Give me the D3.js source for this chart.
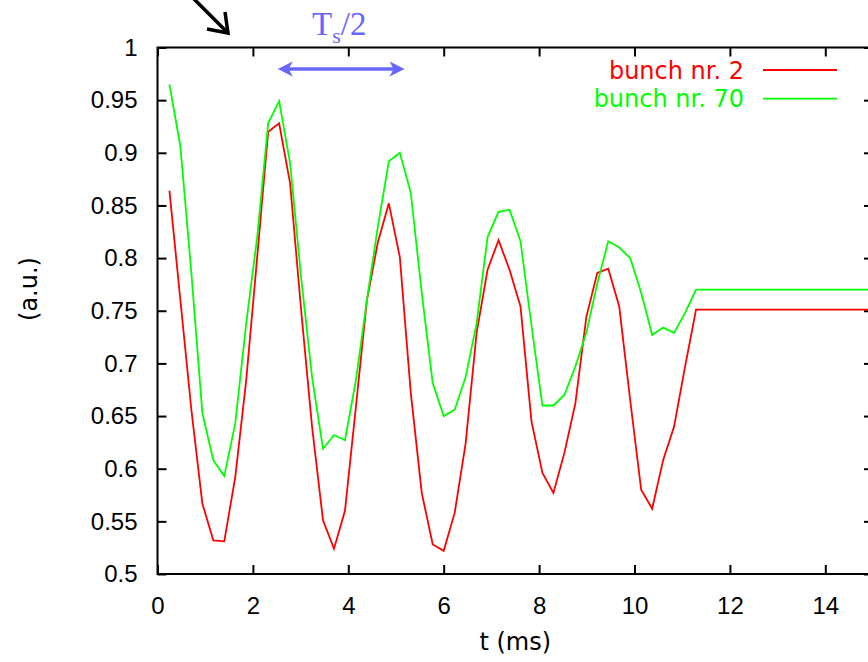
<!DOCTYPE html>
<html lang="en">
<style>

body {
  margin: 0;
  background: #fff;
}

svg {
  display: block;
  font-family: "DejaVu Sans", "Liberation Sans", sans-serif;
}

.frame {
  fill: none;
  stroke: #000;
  stroke-width: 2px;
}

.axis line {
  stroke: #000;
  stroke-width: 2px;
}

.axis text {
  font-size: 24px;
  fill: #000;
}

.curve {
  fill: none;
  stroke-width: 1.8px;
}

</style>

<script type = "text/javascript" src="https://d3js.org/d3.v7.min.js"></script>
<body>
  <script type = "text/javascript">

// Time of each sample (ms)
var tms = [0.25, 0.48, 0.71, 0.94, 1.17, 1.40, 1.63, 1.86, 2.09, 2.32,
           2.55, 2.78, 3.01, 3.24, 3.47, 3.70, 3.93, 4.16, 4.39, 4.62,
           4.85, 5.08, 5.31, 5.54, 5.77, 6.00, 6.23, 6.46, 6.69, 6.92,
           7.15, 7.38, 7.61, 7.84, 8.07, 8.30, 8.53, 8.76, 8.99, 9.22,
           9.45, 9.68, 9.91, 10.14, 10.37, 10.60, 10.83, 11.06, 11.29, 15];

// Signal of bunch nr. 2 (a.u.)
var bunch2 = [0.864, 0.760, 0.656, 0.567, 0.532, 0.531, 0.592, 0.684, 0.801, 0.920,
              0.928, 0.871, 0.751, 0.640, 0.551, 0.524, 0.560, 0.659, 0.760, 0.815,
              0.852, 0.801, 0.672, 0.577, 0.528, 0.522, 0.558, 0.624, 0.729, 0.789,
              0.817, 0.789, 0.754, 0.645, 0.596, 0.577, 0.615, 0.662, 0.744, 0.786,
              0.790, 0.754, 0.665, 0.580, 0.562, 0.608, 0.640, 0.697, 0.751, 0.751];

// Signal of bunch nr. 70 (a.u.)
var bunch70 = [0.965, 0.906, 0.786, 0.653, 0.608, 0.593, 0.643, 0.738, 0.820, 0.928,
               0.949, 0.890, 0.782, 0.687, 0.619, 0.632, 0.627, 0.684, 0.760, 0.830,
               0.892, 0.900, 0.862, 0.767, 0.681, 0.650, 0.656, 0.687, 0.738, 0.820,
               0.844, 0.846, 0.816, 0.736, 0.660, 0.660, 0.670, 0.697, 0.729, 0.776,
               0.816, 0.810, 0.800, 0.767, 0.727, 0.734, 0.729, 0.748, 0.770, 0.770];

// Tick values
var xTicks = [0, 2, 4, 6, 8, 10, 12, 14];
var yTicks = [0.5, 0.55, 0.6, 0.65, 0.7, 0.75, 0.8, 0.85, 0.9, 0.95, 1];

// Half synchrotron period marker (ms) and its height
var halfPeriod = [2.52, 5.18];
var halfPeriodLevel = 0.9795;

var width = 868,
    height = 662;

var svg = d3.select("body")
            .append("svg")
            .attr("width", width)
            .attr("height", height);

// Scales (plot box runs a bit past the right edge of the picture)
var x = d3.scaleLinear().domain([0, 15]).range([157.5, 873]);
var y = d3.scaleLinear().domain([0.5, 1]).range([574, 47.5]);

var tick = -9;

// Axes with inward ticks on all four sides
svg.append("g")
    .attr("class", "axis")
    .attr("transform", "translate(0," + y(0.5) + ")")
    .call(d3.axisBottom(x).tickValues(xTicks).tickSizeInner(tick).tickSizeOuter(0).tickPadding(23).tickFormat(String))
    .call(function(g) { g.select(".domain").remove(); });

svg.append("g")
    .attr("class", "axis")
    .attr("transform", "translate(0," + y(1) + ")")
    .call(d3.axisTop(x).tickValues(xTicks).tickSizeInner(tick).tickSizeOuter(0).tickFormat(""))
    .call(function(g) { g.select(".domain").remove(); });

svg.append("g")
    .attr("class", "axis")
    .attr("transform", "translate(" + x(0) + ",0)")
    .call(d3.axisLeft(y).tickValues(yTicks).tickSizeInner(tick).tickSizeOuter(0).tickPadding(20).tickFormat(String))
    .call(function(g) { g.select(".domain").remove(); });

svg.append("g")
    .attr("class", "axis")
    .attr("transform", "translate(" + x(15) + ",0)")
    .call(d3.axisRight(y).tickValues(yTicks).tickSizeInner(tick).tickSizeOuter(0).tickFormat(""))
    .call(function(g) { g.select(".domain").remove(); });

// Plot frame
svg.append("rect")
    .attr("class", "frame")
    .attr("x", x(0))
    .attr("y", y(1))
    .attr("width", x(15) - x(0))
    .attr("height", y(0.5) - y(1));

// Axis titles
svg.append("text")
    .attr("x", (x(0) + x(15)) / 2)
    .attr("y", 650)
    .attr("text-anchor", "middle")
    .style("font-size", "24px")
    .text("t (ms)");

svg.append("text")
    .attr("transform", "translate(37,289) rotate(-90)")
    .attr("text-anchor", "middle")
    .style("font-size", "24px")
    .text("(a.u.)");

// Curves
var line = d3.line()
    .x(function(d, i) { return x(tms[i]); })
    .y(function(d) { return y(d); });

var series = [
  {name: "bunch nr. 2", values: bunch2, color: "#ff0000"},
  {name: "bunch nr. 70", values: bunch70, color: "#00ff00"}
];

svg.selectAll(".curve")
    .data(series)
    .enter().append("path")
      .attr("class", "curve")
      .attr("stroke", function(d) { return d.color; })
      .attr("d", function(d) { return line(d.values); });

// Legend
var legend = svg.selectAll(".legend")
    .data(series)
    .enter().append("g")
      .attr("class", "legend")
      .attr("transform", function(d, i) { return "translate(0," + (70 + i * 28.7) + ")"; });

legend.append("text")
    .attr("x", 744)
    .attr("dy", "0.36em")
    .attr("text-anchor", "end")
    .style("font-size", "24px")
    .attr("fill", function(d) { return d.color; })
    .text(function(d) { return d.name; });

legend.append("line")
    .attr("x1", 763)
    .attr("x2", 837)
    .attr("stroke", function(d) { return d.color; })
    .attr("stroke-width", 1.8);

// Ts/2 double arrow
var blue = "#6767ff";
var ay = y(halfPeriodLevel),
    ax1 = x(halfPeriod[0]),
    ax2 = x(halfPeriod[1]);

svg.append("line")
    .attr("x1", ax1 + 8)
    .attr("x2", ax2 - 8)
    .attr("y1", ay)
    .attr("y2", ay)
    .attr("stroke", blue)
    .attr("stroke-width", 3.5);

svg.append("path")
    .attr("fill", blue)
    .attr("d", "M" + ax1 + "," + ay + "l15,-7.5l-4,7.5l4,7.5z" +
               "M" + ax2 + "," + ay + "l-15,-7.5l4,7.5l-4,7.5z");

var ts = svg.append("text")
    .attr("x", 312)
    .attr("y", 35)
    .attr("fill", blue)
    .style("font-family", "'Liberation Serif', 'Times New Roman', serif")
    .style("font-size", "33px");

ts.append("tspan").text("T");
ts.append("tspan").attr("dy", 8).style("font-size", "22px").text("s");
ts.append("tspan").attr("dy", -8).text("/2");

// Black arrow pointing into the plot corner
svg.append("line")
    .attr("x1", 190)
    .attr("y1", -5)
    .attr("x2", 227)
    .attr("y2", 32)
    .attr("stroke", "#000")
    .attr("stroke-width", 3.5);

svg.append("path")
    .attr("fill", "none")
    .attr("stroke", "#000")
    .attr("stroke-width", 3.5)
    .attr("d", "M207,29L228,33L225,12");

</script>
</body>
</html>
